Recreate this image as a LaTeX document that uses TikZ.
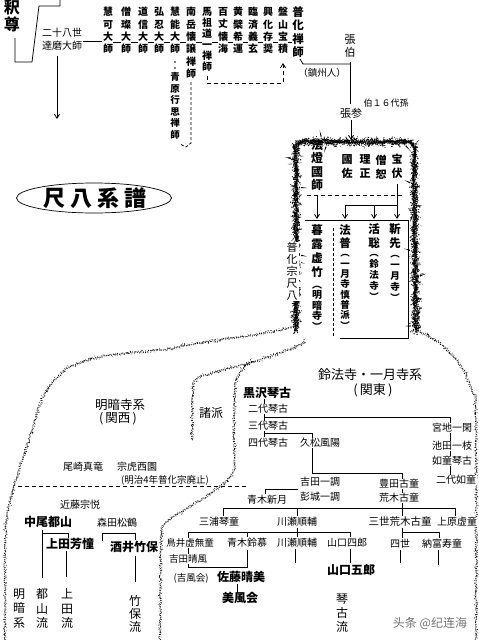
\documentclass[tikz,border=0pt]{standalone}
\usepackage{fontspec}
\setmainfont{Noto Sans CJK JP}
\newfontfamily\wmfont{Noto Sans CJK SC}
\usetikzlibrary{arrows.meta,decorations.pathmorphing,shapes.geometric}
\newcommand\vf[2]{\fontsize{#1}{#2}\selectfont\lineskiplimit=-100pt\lineskip=0pt\relax}
\tikzset{
  vt/.style={align=center, inner sep=0pt, anchor=north, text depth=0pt, font=\vf{10}{12.3}},
  vtb/.style={vt, font=\bfseries\vf{10}{12.3}},
  hn/.style={inner sep=0.6pt, fill=white, font=\fontsize{10}{12}\selectfont},
  hb/.style={hn, font=\bfseries\fontsize{12}{14}\selectfont},
  ln/.style={line width=0.8pt},
  dl/.style={line width=0.8pt, dash pattern=on 4pt off 3pt},
  arr/.style={ln, -{Straight Barb[length=4pt,width=5pt]}},
  speckA/.style={line width=1.2pt, dash pattern=on 0.5pt off 1.5pt, decorate, decoration={random steps, segment length=1.6pt, amplitude=1.1pt}},
  speckB/.style={line width=0.7pt, dash pattern=on 0.7pt off 2pt, decorate, decoration={random steps, segment length=2pt, amplitude=1.6pt}},
  speckC/.style={line width=0.6pt, dash pattern=on 0.5pt off 2.6pt, decorate, decoration={random steps, segment length=2.4pt, amplitude=2.3pt}},
}
\newcommand\spk[2][]{\draw[speckA,#1] #2; \draw[speckB,#1] #2; \draw[speckC,#1] #2;}
\begin{document}
\begin{tikzpicture}[x=1pt,y=-1pt]
\useasboundingbox (0,0) rectangle (479,640);
\fill[white] (0,0) rectangle (479,640);

% ---------------- top lineage ----------------
\node[vt, font=\bfseries\vf{16}{17}] (shakuson) at (12,0) {釈\\尊};
\draw[ln] (15,38)--(15,62)--(32,62)--(39,6)--(60,6)--(60,0);
\node[inner sep=0pt, font=\fontsize{10}{12}\selectfont] (daruma1) at (62,33) {二十八世};
\node[inner sep=0pt, font=\fontsize{10}{12}\selectfont] (daruma2) at (62,46) {達磨大師};
\draw[arr] (57,56)--(57,119);
\draw[ln] (83,41)--(102,41);

\node[vtb] (c1) at (108,7.2) {慧\\可\\大\\師};
\node[vtb] (c2) at (126,7.2) {僧\\璨\\大\\師};
\node[vtb] (c3) at (143,7.2) {道\\信\\大\\師};
\node[vtb] (c4) at (159,7.2) {弘\\忍\\大\\師};
\node[vtb] (c5) at (175,7.2) {慧\\能\\大\\師};
\node[vtb] (c6) at (191,7.2) {南\\岳\\懐\\譲\\禅\\師};
\node[vtb, font=\bfseries\vf{10}{11}] (c7) at (207,7.2) {馬\\祖\\道\\一\\禅\\師};
\node[vtb] (c8) at (223,7.2) {百\\丈\\懐\\海};
\node[vtb] (c9) at (238,7.2) {黄\\檗\\希\\運};
\node[vtb] (c10) at (253,7.2) {臨\\済\\義\\玄};
\node[vtb] (c11) at (268,7.2) {興\\化\\存\\奨};
\node[vtb] (c12) at (283,7.2) {盤\\山\\宝\\積};
\node[vtb, font=\bfseries\vf{11.5}{13.5}] (c13) at (298,6) {普\\化\\禅\\師};
\foreach \a/\b in {113/121, 131/138, 148/154, 164/170, 180/186, 196/202, 212/218, 228/233, 243/248, 258/263, 273/278, 288/292}
  \draw[ln] (\a,42)--(\b,42);

\node[vtb, font=\bfseries\vf{9.5}{11.5}] (seigen) at (175,72.6) {青\\原\\行\\思\\禅\\師};
\fill (175,62) circle (0.8); \fill (175,68) circle (0.8);
\draw[ln, dash pattern=on 3pt off 2pt] (191,82)--(191,143)--(186,147)--(180,144);
\draw[ln, dash pattern=on 4pt off 3pt, -{Straight Barb[length=4pt,width=5pt]}] (207,76)--(207,83)--(283,83)--(283,63);

\draw[ln] (300,59)--(303,64)--(350,64);
\node[inner sep=0pt, font=\fontsize{9.5}{11}\selectfont] (chinshu) at (322,73) {（鎮州人）};
\node[vt, font=\vf{11}{13}] (chohaku) at (350,34.4) {張\\伯};
\draw[ln] (350,62)--(350,104);
\node[inner sep=0pt, font=\fontsize{11}{13}\selectfont] (chosan) at (351,113) {張参};
\node[inner sep=0pt, font=\fontsize{9}{10}\selectfont] (dai16) at (386,103) {伯１６代孫};
\draw[arr] (351,120)--(351,140);

% ---------------- textured outline ----------------
\spk[rounded corners=6pt]{(296,330) -- (296,142) -- (414,142) -- (416,332)}
\spk{plot[smooth] coordinates {(416,330) (438,342) (458,362) (472,390) (476,420) (476,640)}}
\spk{plot[smooth] coordinates {(296,326) (265,333) (233,338) (200,343) (160,350) (110,355) (70,367) (45,393) (32,430) (17,477) (7,515) (5,560) (5,640)}}
\spk{plot[smooth] coordinates {(305,343) (280,353) (250,363) (215,372) (197,379) (193,392) (192,440)}}
\spk{plot[smooth] coordinates {(252,362) (240,372) (235,388) (234,430) (233,472) (212,492) (188,508) (165,523) (161,545) (160,640)}}

% ---------------- head contents ----------------
\node[vt, font=\bfseries\vf{12}{13.5}] (hotto) at (317,138.6) {法\\燈\\國\\師};
\node[vt, font=\bfseries\vf{11}{14}] (kokusa) at (347,154.4) {國\\佐};
\node[vt, font=\bfseries\vf{11}{14}] (risho) at (365,154.4) {理\\正};
\node[vt, font=\bfseries\vf{11}{14}] (sojo) at (381,154.4) {僧\\恕};
\node[vt, font=\bfseries\vf{11}{14}] (hofuku) at (397,154.4) {宝\\伏};
\draw[dl] (307,195)--(402,195);
\draw[arr] (397,184)--(397,219);
\draw[ln] (345,205)--(397,205);
\draw[arr] (345,205)--(345,219);
\draw[arr] (374,205)--(374,219);
\draw[arr] (317,196)--(317,219);
\draw[ln] (305,220)--(408,220)--(408,338)--(340,338);

\node[vt, font=\bfseries\vf{11.5}{14}] (kyochiku) at (317,224) {暮\\露\\虚\\竹};
\node[vt, font=\bfseries\vf{10}{10.6}] (meianji) at (317,285.5) {︵\\明\\暗\\寺\\︶};
\draw[ln, dash pattern=on 3pt off 2pt] (333,228)--(333,336);
\node[vt, font=\bfseries\vf{11.5}{13}] (hofu) at (345,224) {法\\普};
\node[vt, font=\bfseries\vf{9.5}{10.3}] (ichigetsuA) at (345,254.5) {︵\\一\\月\\寺\\慎\\普\\派\\︶};
\node[vt, font=\bfseries\vf{11.5}{14.5}] (kasso) at (374,223) {活\\聡};
\node[vt, font=\bfseries\vf{9.5}{11}] (reihoji) at (374,254) {︵\\鈴\\法\\寺\\︶};
\node[vt, font=\bfseries\vf{11.5}{14.5}] (kinsen) at (395,223) {靳\\先};
\node[vt, font=\bfseries\vf{9.5}{11}] (ichigetsuB) at (395,255) {︵\\一\\月\\寺\\︶};
\node[vt, fill=white, inner sep=1pt, font=\vf{11}{12}] (fukeshu) at (292,241.4) {普\\化\\宗\\尺\\八};

% ---------------- title ----------------
\node[ellipse, draw, line width=0.7pt, minimum width=155, minimum height=30, inner sep=0pt] (titleov) at (94,198) {};
\node[inner sep=0pt, font=\bfseries\fontsize{22}{24}\selectfont] (titletx) at (95,198) {尺\hspace{5pt}八\hspace{5pt}系\hspace{5pt}譜};

% ---------------- lower connectors ----------------
\draw[dl] (18,486)--(248,486);
\draw[ln] (264,399)--(264,437);
\draw[ln] (264,417)--(450,417)--(450,475);
\draw[ln] (264,433)--(312,433)--(312,473)--(402,473)--(402,508);
\draw[ln] (298,489)--(265,489)--(265,494);
\draw[ln] (223,508)--(455,508);
\foreach \x in {223,297,402,455} \draw[ln] (\x,508)--(\x,516);
\draw[ln] (402,528)--(402,538);
\draw[ln] (402,532)--(439,532)--(439,538);
\draw[ln] (400,550)--(400,563);
\draw[ln] (438,550)--(438,565);
\draw[ln] (297,528)--(297,532);
\draw[ln] (188,532)--(350,532);
\foreach \x in {247,297,350} \draw[ln] (\x,532)--(\x,537);
\draw[ln] (188,532)--(188,567)--(247,567)--(247,550);
\draw[ln] (295,549)--(295,563);
\draw[ln] (350,549)--(350,563);
\draw[ln] (237,584)--(237,592);
\draw[ln] (42,530)--(42,578);
\draw[ln] (42,533)--(68,533)--(68,538);
\draw[ln] (102,541)--(102,533)--(135,533)--(135,540);
\draw[ln] (66,551)--(66,577);
\draw[ln] (135,556)--(135,582);

% ---------------- lower texts ----------------
\node[hn, font=\fontsize{12.5}{14}\selectfont] (meianjikei) at (120,405) {明暗寺系};
\node[hn, font=\fontsize{12.5}{14}\selectfont] (kansai) at (118,419) {(\,関西\,)};
\node[hn, font=\fontsize{12}{14}\selectfont] (shoha) at (211,413) {諸派};
\node[hn, font=\fontsize{13}{15}\selectfont] (reihokei) at (370,375) {鈴法寺・一月寺系};
\node[hn, font=\fontsize{13}{15}\selectfont] (kanto) at (373,390) {(\,関東\,)};

\node[hb] (kinko1) at (267,393) {黒沢琴古};
\node[hn] (kinko2) at (268,409) {二代琴古};
\node[hn] (kinko3) at (268,426) {三代琴古};
\node[hn] (kinko4) at (268,443) {四代琴古};
\node[hn] (hisamatsu) at (320,443) {久松風陽};
\node[hn] (miyaji) at (452,428) {宮地一閑};
\node[hn] (ikeda) at (452,446) {池田一枝};
\node[hn] (nyodo1) at (452,461) {如童琴古};
\node[hn] (nyodo2) at (456,480) {二代如童};
\node[hn] (yoshida) at (320,482) {吉田一調};
\node[hn] (sakaki) at (320,497) {彭城一調};
\node[hn] (shingetsu) at (267,500) {青木新月};
\node[hn] (toyoda) at (399,484) {豊田古童};
\node[hn] (araki1) at (399,498) {荒木古童};
\node[hn] (miura) at (219,522) {三浦琴童};
\node[hn] (kawase1) at (297,522) {川瀬順輔};
\node[hn, font=\fontsize{10.5}{12}\selectfont] (araki3) at (400,522) {三世荒木古童};
\node[hn] (uehara) at (457,522) {上原虚童};
\node[hn, font=\fontsize{9.5}{11}\selectfont] (torii) at (190,543) {鳥井虚無童};
\node[hn] (aoki) at (247,543) {青木鈴慕};
\node[hn] (kawase2) at (297,543) {川瀬順輔};
\node[hn] (yamaguchi4) at (347,543) {山口四郎};
\node[hn] (yonsei) at (400,544) {四世};
\node[hn] (notomi) at (442,544) {納富寿童};
\node[hn, font=\fontsize{9.5}{11}\selectfont] (seifu) at (188,559) {吉田晴風};
\node[hn, font=\fontsize{9.5}{11}\selectfont] (seifukai) at (191,578) {(吉風会)};
\node[hb] (sato) at (241,577) {佐藤晴美};
\node[hb] (bifukai) at (240,598) {美風会};
\node[hb] (yamaguchi5) at (351,570) {山口五郎};
\node[vt, font=\vf{12}{14}] (kinkoryu) at (342,593.6) {琴\\古\\流};

\node[hn] (ozaki) at (83,467) {尾崎真竜};
\node[hn] (seien) at (137,467) {宗虎西園};
\node[inner sep=0pt, font=\fontsize{9.5}{11}\selectfont] (meiji) at (165,480) {(明治4年普化宗廃止)};
\node[hn] (kondo) at (80,505) {近藤宗悦};
\node[hb] (nakao) at (48,522) {中尾都山};
\node[hn] (morita) at (117,523) {森田松鶴};
\node[hb] (ueda) at (70,544) {上田芳憧};
\node[hb] (sakai) at (134,547) {酒井竹保};
\node[vt, font=\vf{12}{14.5}] (meiankei) at (19,588.6) {明\\暗\\系};
\node[vt, font=\vf{12}{14.5}] (tozanryu) at (42,588.6) {都\\山\\流};
\node[vt, font=\vf{12}{14.5}] (uedaryu) at (67,588.6) {上\\田\\流};
\node[vt, font=\vf{12}{13}] (chikuhoryu) at (135,595.6) {竹\\保\\流};

\node[inner sep=0pt, text=black!55, font=\wmfont\fontsize{12}{14}\selectfont] (wm) at (430,623) {头条 @纪连海};
\end{tikzpicture}
\end{document}
